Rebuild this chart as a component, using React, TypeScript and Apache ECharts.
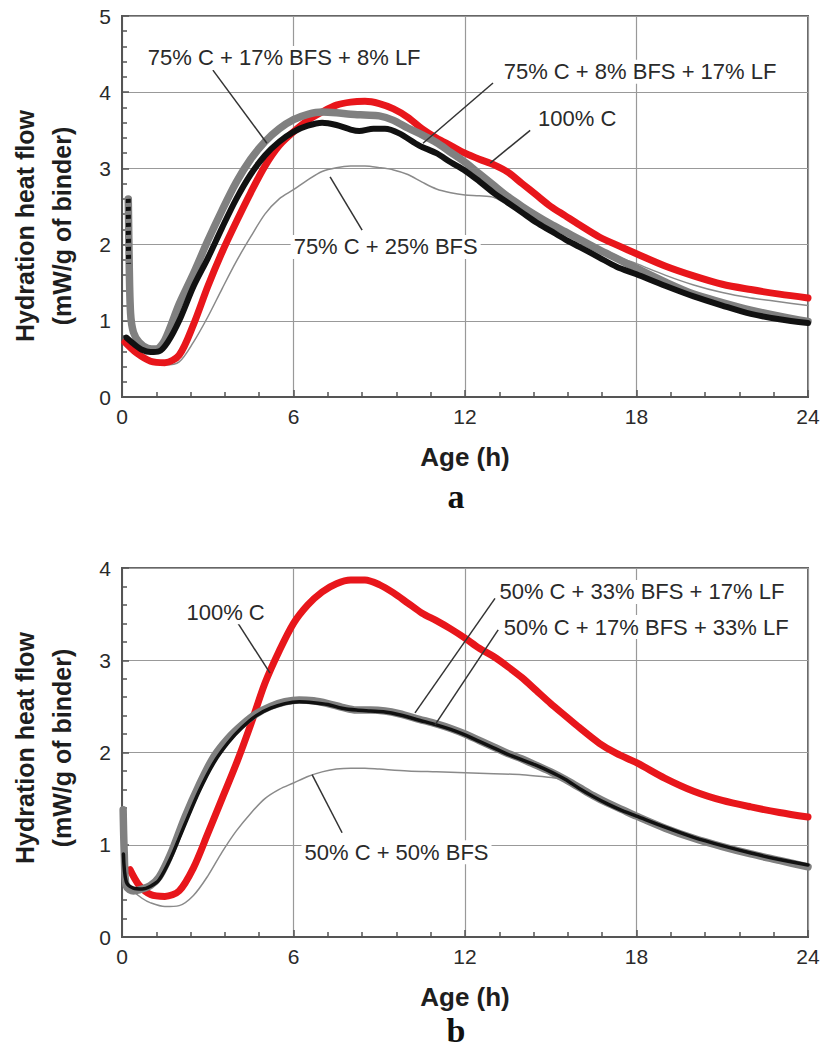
import React, { useEffect, useRef } from "react";
import * as echarts from "echarts";

// ---------- DATA (hours, mW/g of binder) ----------
// Panel a
const a_100C: [number, number][] = [
  [0.1, 0.72], [0.5, 0.58], [1.0, 0.47], [1.5, 0.45], [2.0, 0.55], [2.5, 0.95], [3.0, 1.45], [3.5, 1.9],
  [4.0, 2.3], [4.5, 2.68], [5.0, 3.03], [5.5, 3.3], [6.0, 3.48], [6.5, 3.63], [7.0, 3.74], [7.5, 3.83],
  [8.0, 3.87], [8.5, 3.88], [9.0, 3.85], [9.5, 3.78], [10.0, 3.67], [10.5, 3.52], [11.0, 3.4], [11.5, 3.3],
  [12.0, 3.2], [12.5, 3.12], [13.0, 3.05], [13.5, 2.95], [14.0, 2.8], [14.5, 2.65], [15.0, 2.5], [15.5, 2.38],
  [16.0, 2.26], [16.7, 2.1], [17.4, 1.98], [18.0, 1.88], [19.0, 1.72], [20.0, 1.59], [21.0, 1.48], [22.0, 1.41],
  [23.0, 1.35], [24.0, 1.3],
];
const a_17BFS_8LF: [number, number][] = [
  [0.22, 2.6], [0.25, 1.8], [0.3, 1.1], [0.4, 0.85], [0.6, 0.72], [0.9, 0.64], [1.2, 0.63], [1.5, 0.75],
  [2.0, 1.22], [2.5, 1.62], [3.0, 2.05], [3.5, 2.45], [4.0, 2.82], [4.5, 3.12], [5.0, 3.35], [5.5, 3.52],
  [6.0, 3.64], [6.5, 3.71], [7.0, 3.74], [7.5, 3.73], [8.0, 3.71], [8.5, 3.7], [9.0, 3.69], [9.5, 3.63],
  [10.0, 3.53], [10.5, 3.44], [11.0, 3.34], [11.5, 3.21], [12.0, 3.08], [12.5, 2.93], [13.0, 2.78], [13.5, 2.63],
  [14.0, 2.5], [14.5, 2.38], [15.0, 2.27], [15.5, 2.17], [16.0, 2.07], [16.7, 1.93], [17.3, 1.82], [18.0, 1.69],
  [19.0, 1.51], [20.0, 1.35], [21.0, 1.24], [22.0, 1.14], [23.0, 1.06], [24.0, 0.99],
];
const a_earlyDots: [number, number][] = [[0.22, 2.6], [0.23, 1.75]];
const a_8BFS_17LF: [number, number][] = [
  [0.15, 0.78], [0.4, 0.7], [0.7, 0.62], [1.0, 0.59], [1.3, 0.6], [1.6, 0.72], [2.0, 1.0], [2.5, 1.45],
  [3.0, 1.82], [3.5, 2.22], [4.0, 2.6], [4.5, 2.92], [5.0, 3.17], [5.5, 3.35], [6.0, 3.48], [6.5, 3.56],
  [7.0, 3.6], [7.5, 3.57], [8.0, 3.51], [8.3, 3.49], [8.8, 3.52], [9.2, 3.52], [9.7, 3.46], [10.4, 3.3],
  [11.0, 3.2], [11.5, 3.08], [12.0, 2.97], [12.5, 2.83], [13.0, 2.68], [13.5, 2.55], [14.0, 2.42], [14.5, 2.29],
  [15.0, 2.18], [15.5, 2.07], [16.0, 1.97], [16.7, 1.83], [17.3, 1.71], [18.0, 1.61], [19.0, 1.46], [20.0, 1.32],
  [21.0, 1.2], [22.0, 1.09], [23.0, 1.02], [24.0, 0.97],
];
const a_25BFS: [number, number][] = [
  [0.1, 0.72], [0.5, 0.58], [1.0, 0.47], [1.5, 0.42], [2.0, 0.46], [2.5, 0.72], [3.0, 1.05], [3.5, 1.42],
  [4.0, 1.78], [4.5, 2.1], [5.0, 2.4], [5.5, 2.6], [6.0, 2.72], [6.5, 2.85], [7.0, 2.96], [7.5, 3.01],
  [8.0, 3.03], [8.5, 3.03], [9.0, 3.01], [9.5, 2.98], [10.0, 2.92], [10.5, 2.82], [11.0, 2.73], [11.5, 2.68],
  [12.0, 2.65], [12.5, 2.64], [13.0, 2.62], [13.5, 2.52], [14.0, 2.43], [14.5, 2.33], [15.0, 2.24], [15.5, 2.16],
  [16.0, 2.07], [16.7, 1.96], [17.5, 1.82], [18.0, 1.75], [19.0, 1.6], [20.0, 1.47], [21.0, 1.37], [22.0, 1.3],
  [23.0, 1.25], [24.0, 1.2],
];

// Panel b
const b_100C: [number, number][] = [
  [0.28, 0.73], [0.6, 0.56], [1.0, 0.46], [1.5, 0.44], [2.0, 0.5], [2.5, 0.75], [3.0, 1.12], [3.5, 1.5],
  [4.0, 1.88], [4.5, 2.3], [5.0, 2.75], [5.5, 3.1], [6.0, 3.4], [6.5, 3.6], [7.0, 3.74], [7.5, 3.83],
  [8.0, 3.87], [8.5, 3.87], [9.0, 3.82], [9.5, 3.73], [10.0, 3.62], [10.5, 3.51], [11.0, 3.43], [11.5, 3.34],
  [12.0, 3.24], [12.5, 3.13], [13.0, 3.04], [13.5, 2.93], [14.0, 2.81], [14.5, 2.67], [15.0, 2.53], [15.5, 2.4],
  [16.0, 2.27], [16.7, 2.1], [17.3, 1.99], [18.0, 1.89], [19.0, 1.72], [20.0, 1.58], [21.0, 1.48], [22.0, 1.41],
  [23.0, 1.35], [24.0, 1.3],
];
const b_33BFS_17LF: [number, number][] = [
  [0.04, 1.38], [0.08, 0.9], [0.15, 0.55], [0.4, 0.5], [0.7, 0.52], [1.0, 0.56], [1.3, 0.65], [1.7, 0.9],
  [2.2, 1.3], [2.7, 1.65], [3.2, 1.95], [3.7, 2.15], [4.2, 2.3], [4.7, 2.42], [5.2, 2.5], [5.7, 2.55],
  [6.2, 2.57], [6.7, 2.56], [7.2, 2.53], [7.7, 2.49], [8.2, 2.46], [8.7, 2.46], [9.2, 2.45], [9.7, 2.42],
  [10.4, 2.36], [11.0, 2.31], [11.5, 2.26], [12.0, 2.2], [12.5, 2.13], [13.0, 2.06], [13.5, 1.99], [14.0, 1.93],
  [14.5, 1.86], [15.0, 1.79], [15.5, 1.71], [16.0, 1.62], [16.5, 1.53], [17.0, 1.45], [17.5, 1.38], [18.0, 1.31],
  [19.0, 1.18], [20.0, 1.07], [21.0, 0.98], [22.0, 0.9], [23.0, 0.83], [24.0, 0.76],
];
const b_17BFS_33LF: [number, number][] = [
  [0.05, 0.9], [0.15, 0.6], [0.4, 0.53], [0.7, 0.52], [1.0, 0.55], [1.3, 0.62], [1.7, 0.85], [2.2, 1.22],
  [2.7, 1.58], [3.2, 1.88], [3.7, 2.1], [4.2, 2.27], [4.7, 2.4], [5.2, 2.48], [5.7, 2.53], [6.2, 2.55],
  [6.7, 2.54], [7.2, 2.52], [7.7, 2.48], [8.2, 2.46], [8.7, 2.45], [9.2, 2.44], [9.7, 2.41], [10.4, 2.35],
  [11.0, 2.3], [11.5, 2.25], [12.0, 2.19], [12.5, 2.12], [13.0, 2.05], [13.5, 1.98], [14.0, 1.92], [14.5, 1.86],
  [15.0, 1.79], [15.5, 1.71], [16.0, 1.61], [16.5, 1.52], [17.0, 1.44], [17.5, 1.37], [18.0, 1.31], [19.0, 1.19],
  [20.0, 1.08], [21.0, 0.99], [22.0, 0.91], [23.0, 0.84], [24.0, 0.78],
];
const b_50BFS: [number, number][] = [
  [0.05, 0.6], [0.3, 0.52], [0.7, 0.42], [1.0, 0.37], [1.5, 0.33], [2.0, 0.34], [2.5, 0.45], [3.0, 0.66],
  [3.5, 0.92], [4.0, 1.15], [4.5, 1.34], [5.0, 1.5], [5.5, 1.6], [6.0, 1.67], [6.5, 1.74], [7.0, 1.79],
  [7.5, 1.82], [8.0, 1.83], [8.5, 1.83], [9.0, 1.82], [10.0, 1.8], [11.0, 1.79], [12.0, 1.78], [13.0, 1.77],
  [14.0, 1.76], [14.7, 1.74], [15.2, 1.72], [15.5, 1.69], [16.0, 1.61], [16.5, 1.52], [17.0, 1.44], [17.5, 1.37],
  [18.0, 1.31], [19.0, 1.19], [20.0, 1.08], [21.0, 0.99], [22.0, 0.91], [23.0, 0.84], [24.0, 0.77],
];

// Annotations: [label anchor h, v, text] and leader lines [[h1,v1],[h2,v2]]
const a_labels: [number, number, string][] = [
  [0.8, 4.45, "75% C + 17% BFS + 8% LF"],
  [13.25, 4.27, "75% C + 8% BFS + 17% LF"],
  [14.45, 3.66, "100% C"],
  [5.9, 1.97, "75% C + 25% BFS"],
];
const a_leaders: [number, number][][] = [
  [[3.18, 4.29], [5.07, 3.33]],
  [[12.98, 4.12], [10.53, 3.33]],
  [[14.28, 3.5], [12.88, 3.07]],
  [[8.4, 2.19], [7.28, 2.89]],
];
const b_labels: [number, number, string][] = [
  [2.15, 3.52, "100% C"],
  [13.1, 3.74, "50% C + 33% BFS + 17% LF"],
  [13.25, 3.36, "50% C + 17% BFS + 33% LF"],
  [6.28, 0.92, "50% C + 50% BFS"],
];
const b_leaders: [number, number][][] = [
  [[4.06, 3.4], [5.18, 2.86]],
  [[13.05, 3.67], [10.25, 2.43]],
  [[13.16, 3.33], [10.95, 2.3]],
  [[7.7, 1.13], [6.65, 1.76]],
];

const xTicks = { min: 0, max: 24, interval: 6 };
const yMaxA = 5;
const yMaxB = 4;

const RED = "#e8161b";
const GRAY = "#808080";
const BLACK = "#111111";
const THIN = "#8a8a8a";
const TXT = "#2a2a2a";
const SANS = "'Liberation Sans', Arial, Helvetica, sans-serif";
const SERIF = "'Liberation Serif', 'Times New Roman', serif";

export default function App() {
  const ref = useRef<HTMLDivElement>(null);
  useEffect(() => {
    if (!ref.current) return;
    const chart = echarts.init(ref.current, null, { renderer: "svg" });

    const mkX = (gi: number) => ({
      type: "value",
      gridIndex: gi,
      min: xTicks.min,
      max: xTicks.max,
      interval: xTicks.interval,
      name: "Age (h)",
      nameLocation: "middle",
      nameGap: 47,
      nameTextStyle: { fontFamily: SANS, fontWeight: "bold", fontSize: 26, color: "#1e1e1e" },
      axisLine: { show: true, lineStyle: { color: "#555", width: 2 } },
      axisTick: { show: true, inside: true, length: 7, lineStyle: { color: "#555", width: 1.5 } },
      minorTick: { show: true, splitNumber: 5, length: 5, lineStyle: { color: "#555", width: 1.5 } },
      axisLabel: { fontFamily: SANS, fontSize: 21, color: TXT, margin: 9 },
      splitLine: { show: true, lineStyle: { color: "#999999", width: 1.2 } },
    });
    const mkY = (gi: number, max: number) => ({
      type: "value",
      gridIndex: gi,
      min: 0,
      max,
      interval: 1,
      axisLine: { show: true, lineStyle: { color: "#555", width: 2 } },
      axisTick: { show: true, inside: true, length: 7, lineStyle: { color: "#555", width: 1.5 } },
      minorTick: { show: true, splitNumber: 5, length: 5, lineStyle: { color: "#555", width: 1.5 } },
      axisLabel: { fontFamily: SANS, fontSize: 21, color: TXT, margin: 11 },
      splitLine: { show: true, lineStyle: { color: "#999999", width: 1.2 } },
    });

    const curve = (gi: number, name: string, data: [number, number][], color: string, width: number, z = 2) => ({
      type: "line",
      name,
      xAxisIndex: gi,
      yAxisIndex: gi,
      data,
      showSymbol: false,
      smooth: 0.3,
      lineStyle: { color, width, cap: "round", join: "round" },
      itemStyle: { color },
      z,
    });

    const leaders = (gi: number, list: [number, number][][]) =>
      list.map((seg, i) => ({
        type: "line",
        name: `leader-${gi}-${i}`,
        xAxisIndex: gi,
        yAxisIndex: gi,
        data: seg,
        showSymbol: false,
        lineStyle: { color: "#333", width: 1.5 },
        z: 6,
        silent: true,
      }));

    const labels = (gi: number, list: [number, number, string][]) => ({
      type: "scatter",
      name: `labels-${gi}`,
      xAxisIndex: gi,
      yAxisIndex: gi,
      symbolSize: 0,
      data: list.map((d) => ({ value: [d[0], d[1]], name: d[2] })),
      label: {
        show: true,
        position: "right",
        distance: 0,
        formatter: (p: any) => p.name,
        fontFamily: SANS,
        fontSize: 22,
        color: TXT,
        opacity: 1,
        backgroundColor: "#ffffff",
        padding: [1, 3, 1, 3],
      },
      emphasis: { disabled: true },
      z: 8,
      silent: true,
    });

    chart.setOption({
      animation: false,
      backgroundColor: "#ffffff",
      grid: [
        { left: 122, top: 16, width: 686, height: 381, show: true, borderColor: "#666", borderWidth: 2 },
        { left: 122, top: 568, width: 686, height: 369, show: true, borderColor: "#666", borderWidth: 2 },
      ],
      xAxis: [mkX(0), mkX(1)],
      yAxis: [mkY(0, yMaxA), mkY(1, yMaxB)],
      series: [
        curve(0, "75% C + 25% BFS", a_25BFS, THIN, 1.5, 2),
        curve(0, "100% C", a_100C, RED, 7, 3),
        curve(0, "75% C + 17% BFS + 8% LF", a_17BFS_8LF, GRAY, 7.5, 3),
        curve(0, "75% C + 8% BFS + 17% LF", a_8BFS_17LF, BLACK, 6, 4),
        {
          type: "line",
          name: "initial readings",
          xAxisIndex: 0,
          yAxisIndex: 0,
          data: a_earlyDots,
          showSymbol: false,
          lineStyle: { color: "#111", width: 5, type: [4, 4] },
          z: 5,
        },
        curve(1, "50% C + 50% BFS", b_50BFS, THIN, 1.5, 2),
        curve(1, "100% C", b_100C, RED, 7, 3),
        curve(1, "50% C + 33% BFS + 17% LF", b_33BFS_17LF, GRAY, 7.5, 3),
        curve(1, "50% C + 17% BFS + 33% LF", b_17BFS_33LF, BLACK, 3.5, 4),
        ...leaders(0, a_leaders),
        ...leaders(1, b_leaders),
        labels(0, a_labels),
        labels(1, b_labels),
      ],
      graphic: [
        {
          type: "text", x: 25, y: 226, rotation: Math.PI / 2,
          style: { text: "Hydration heat flow", fontFamily: SANS, fontWeight: "bold", fontSize: 25, fill: "#1e1e1e", align: "center", verticalAlign: "middle" },
        },
        {
          type: "text", x: 62, y: 226, rotation: Math.PI / 2,
          style: { text: "(mW/g of binder)", fontFamily: SANS, fontWeight: "bold", fontSize: 25, fill: "#1e1e1e", align: "center", verticalAlign: "middle" },
        },
        {
          type: "text", x: 25, y: 748, rotation: Math.PI / 2,
          style: { text: "Hydration heat flow", fontFamily: SANS, fontWeight: "bold", fontSize: 25, fill: "#1e1e1e", align: "center", verticalAlign: "middle" },
        },
        {
          type: "text", x: 62, y: 748, rotation: Math.PI / 2,
          style: { text: "(mW/g of binder)", fontFamily: SANS, fontWeight: "bold", fontSize: 25, fill: "#1e1e1e", align: "center", verticalAlign: "middle" },
        },
        {
          type: "text", x: 456, y: 496,
          style: { text: "a", fontFamily: SERIF, fontWeight: "bold", fontSize: 34, fill: "#111", align: "center", verticalAlign: "middle" },
        },
        {
          type: "text", x: 456, y: 1030,
          style: { text: "b", fontFamily: SERIF, fontWeight: "bold", fontSize: 34, fill: "#111", align: "center", verticalAlign: "middle" },
        },
      ],
    });
    return () => chart.dispose();
  }, []);
  return <div ref={ref} style={{ position: "absolute", left: 0, top: 0, width: 824, height: 1050 }} />;
}
